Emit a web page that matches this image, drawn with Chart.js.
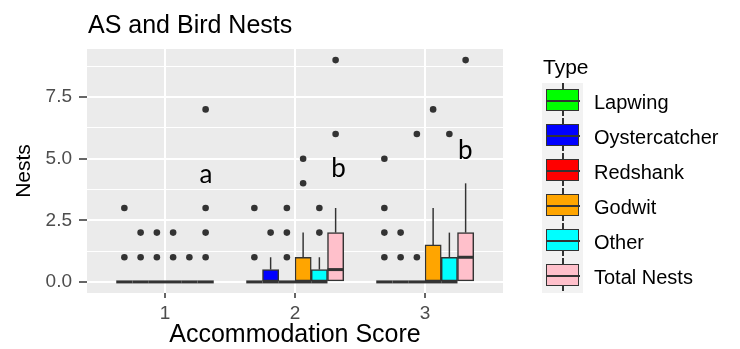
<!DOCTYPE html>
<html>
<head>
<meta charset="utf-8">
<script src="https://cdn.jsdelivr.net/npm/chart.js@4.4.1/dist/chart.umd.min.js"></script>
<style>
  html, body { margin: 0; padding: 0; background: #fff; }
  #wrap { position: relative; width: 740px; height: 349px; font-family: 'Liberation Sans', Arial, sans-serif; }
  #chart { position: absolute; left: 0; top: 0; }
  .title { position: absolute; left: 88px; top: 9px; font-size: 25px; line-height: 30px; color: #000; white-space: nowrap; }
  .legend-title { position: absolute; left: 543px; top: 54px; font-size: 21px; line-height: 25px; color: #000; }
  .key-col { position: absolute; left: 542px; top: 83px; width: 41px; height: 210px; background: #f2f2f2; }
  .key { position: absolute; left: 0; width: 41px; height: 35px; }
  .key .whisker { position: absolute; left: 20.3px; top: 0; width: 1.4px; height: 33px; background: #333; }
  .key .box { position: absolute; left: 4px; top: 6px; width: 31px; height: 20px; border: 1.5px solid #333; }
  .key .med { position: absolute; left: 4px; top: 16.5px; width: 34px; height: 2px; background: #333; }
  .legend-label { position: absolute; left: 594px; font-size: 20px; line-height: 24px; color: #000; white-space: nowrap; }
</style>
</head>
<body>
<div id="wrap">
  <canvas id="chart" width="740" height="349"></canvas>
  <div class="title">AS and Bird Nests</div>
  <div class="legend-title">Type</div>
  <div class="key-col" id="keys"></div>
  <div id="labels"></div>
</div>
<script>
/* ===== Data ===== */
const groups = [1, 2, 3];
const xTickLabels = ['1', '2', '3'];
const types = ['Lapwing', 'Oystercatcher', 'Redshank', 'Godwit', 'Other', 'Total Nests'];
const colors = ['#00ff00', '#0000ff', '#ff0000', '#ffa500', '#00ffff', '#ffc0cb'];

// box statistics, one row per type, one value per accommodation score
const lowerQuartile = [[0, 0, 0], [0, 0, 0], [0, 0, 0], [0, 0, 0], [0, 0, 0], [0, 0, 0]];
const medians       = [[0, 0, 0], [0, 0, 0], [0, 0, 0], [0, 0, 0], [0, 0, 0], [0, 0.5, 1]];
const upperQuartile = [[0, 0, 0], [0, 0.5, 0], [0, 0, 0], [0, 1, 1.5], [0, 0.5, 1], [0, 2, 2]];
const upperWhisker  = [[0, 0, 0], [0, 1, 0], [0, 0, 0], [0, 2, 3], [0, 1, 2], [0, 3, 4]];
const outliers = [
  [[1, 3], [1, 3], [1, 2, 3, 5]],
  [[1, 2], [2], [1, 2]],
  [[1, 2], [1, 2, 3], [1, 6]],
  [[1, 2], [4, 5], [7]],
  [[1], [2, 3], [6]],
  [[1, 2, 3, 7], [6, 9], [9]]
];

const yMajor = [0, 2.5, 5, 7.5];
const yMinor = [1.25, 3.75, 6.25, 8.75];
const yTickLabels = ['0.0', '2.5', '5.0', '7.5'];

const letters = ['a', 'b', 'b'];
const letterX = [1.315, 2.335, 3.31];
const letterY = [4, 4.25, 5];

/* ===== Helpers ===== */
const ink = '#333333';
const dodge = 0.75;
const slot = dodge / types.length;
const pos = (g, i) => g + (i - (types.length - 1) / 2) * slot;

Chart.defaults.font.family = "'Liberation Sans', Arial, sans-serif";

/* ===== Datasets ===== */
const datasets = [];
types.forEach((name, i) => {
  datasets.push({
    type: 'bar',
    label: name,
    order: 3,
    data: groups.map((g, j) => ({ x: pos(g, i), y: [lowerQuartile[i][j], upperQuartile[i][j]] })),
    backgroundColor: colors[i],
    borderColor: ink,
    borderWidth: 1.5,
    borderSkipped: false,
    grouped: false,
    categoryPercentage: 1,
    barPercentage: 1
  });
  datasets.push({
    type: 'bar',
    order: 4,
    data: groups
      .map((g, j) => ({ x: pos(g, i), y: [upperQuartile[i][j], upperWhisker[i][j]] }))
      .filter(d => d.y[1] > d.y[0]),
    backgroundColor: ink,
    borderWidth: 0,
    grouped: false,
    categoryPercentage: 1,
    barPercentage: 0.09
  });
  datasets.push({
    type: 'scatter',
    order: 2,
    data: groups.map((g, j) => ({ x: pos(g, i), y: medians[i][j] })),
    pointStyle: 'line',
    pointRadius: (ctx) => {
      const x = ctx.chart.scales.x;
      return (x.getPixelForValue(slot) - x.getPixelForValue(0)) / 2;
    },
    borderColor: ink,
    borderWidth: 3
  });
  datasets.push({
    type: 'scatter',
    order: 1,
    data: groups.flatMap((g, j) => outliers[i][j].map(v => ({ x: pos(g, i), y: v }))),
    pointRadius: 3.3,
    backgroundColor: ink,
    borderWidth: 0
  });
});

/* ===== Plugins ===== */
const panelBg = {
  id: 'panelBg',
  beforeDraw(chart) {
    const { ctx, chartArea: a } = chart;
    ctx.save();
    ctx.fillStyle = '#ebebeb';
    ctx.fillRect(a.left, a.top, a.right - a.left, a.bottom - a.top);
    ctx.restore();
  }
};

const letterLabels = {
  id: 'letterLabels',
  afterDatasetsDraw(chart) {
    const { ctx, scales: { x, y } } = chart;
    ctx.save();
    ctx.font = "26px Lato, 'Open Sans', sans-serif";
    ctx.fillStyle = '#000';
    ctx.textAlign = 'center';
    ctx.textBaseline = 'alphabetic';
    letters.forEach((t, i) => {
      ctx.fillText(t, x.getPixelForValue(letterX[i]), y.getPixelForValue(letterY[i]));
    });
    ctx.restore();
  }
};

/* ===== Chart ===== */
new Chart(document.getElementById('chart'), {
  type: 'bar',
  data: { datasets },
  options: {
    responsive: false,
    animation: false,
    events: [],
    layout: { padding: { top: 49, right: 237, left: 0, bottom: 0 } },
    plugins: { legend: { display: false }, tooltip: { enabled: false } },
    scales: {
      x: {
        type: 'linear',
        min: 0.4,
        max: 3.6,
        offset: false,
        afterBuildTicks: (s) => { s.ticks = groups.map(v => ({ value: v })); },
        afterFit: (s) => { s.height = 56; },
        border: { display: false },
        grid: { offset: false, color: '#ffffff', lineWidth: 2, tickColor: ink, tickWidth: 1.5, tickLength: 5 },
        ticks: {
          padding: 4,
          color: '#4d4d4d',
          font: { size: 19 },
          maxRotation: 0,
          autoSkip: false,
          callback: (v) => xTickLabels[groups.indexOf(v)]
        },
        title: {
          display: true,
          text: 'Accommodation Score',
          color: '#000',
          font: { size: 25, lineHeight: 1.1 },
          padding: { top: 0, bottom: 0 }
        }
      },
      y: {
        min: -0.45,
        max: 9.45,
        afterBuildTicks: (s) => {
          s.ticks = [...yMajor, ...yMinor].sort((a, b) => a - b).map(v => ({ value: v }));
        },
        afterFit: (s) => { s.width = 87; },
        border: { display: false },
        grid: {
          color: '#ffffff',
          lineWidth: (ctx) => yMajor.includes(ctx.tick && ctx.tick.value) ? 2 : 1,
          tickColor: (ctx) => yMajor.includes(ctx.tick && ctx.tick.value) ? ink : 'rgba(0,0,0,0)',
          tickWidth: 1.5,
          tickLength: 8
        },
        ticks: {
          padding: 7,
          color: '#4d4d4d',
          font: { size: 19 },
          autoSkip: false,
          callback: (v) => {
            const k = yMajor.indexOf(v);
            return k >= 0 ? yTickLabels[k] : '';
          }
        },
        title: {
          display: true,
          text: 'Nests',
          color: '#000',
          font: { size: 21, lineHeight: 1.2 },
          padding: { top: 12, bottom: 0 }
        }
      }
    }
  },
  plugins: [panelBg, letterLabels]
});

/* ===== Legend ===== */
const keysEl = document.getElementById('keys');
const labelsEl = document.getElementById('labels');
types.forEach((name, i) => {
  const key = document.createElement('div');
  key.className = 'key';
  key.style.top = (i * 35) + 'px';
  key.innerHTML = `<div class="whisker"></div><div class="box" style="background:${colors[i]}"></div><div class="med"></div>`;
  keysEl.appendChild(key);

  const lab = document.createElement('div');
  lab.className = 'legend-label';
  lab.style.top = (101.7 + i * 35 - 11.8) + 'px';
  lab.textContent = name;
  labelsEl.appendChild(lab);
});
</script>
</body>
</html>
